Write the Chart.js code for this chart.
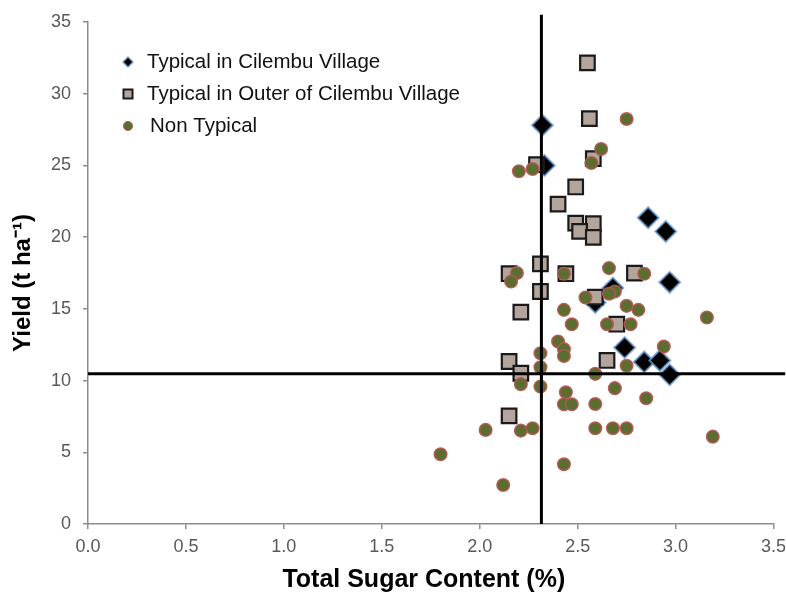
<!DOCTYPE html>
<html>
<head>
<meta charset="utf-8">
<script src="https://cdn.jsdelivr.net/npm/chart.js@4.4.0/dist/chart.umd.min.js"></script>
<style>
  html, body { margin: 0; padding: 0; background: #fff; }
  #wrap { width: 786px; height: 595px; position: relative; }
</style>
</head>
<body>
<div id="wrap"><canvas id="chart1"></canvas></div>
<script>
// Data
// ========================================================================
var seriesNames = ["Typical in Cilembu Village", "Typical in Outer of Cilembu Village", "Non Typical"];

var cilembuSugar = [2.32, 2.33, 2.86, 2.95, 2.97, 2.68, 2.59, 2.74, 2.84, 2.92, 2.97];
var cilembuYield = [27.8, 25.0, 21.35, 20.4, 16.85, 16.45, 15.45, 12.3, 11.3, 11.4, 10.4];

var outerSugar = [2.55, 2.56, 2.58, 2.29, 2.49, 2.40, 2.49, 2.58, 2.51, 2.58, 2.31,
                  2.15, 2.44, 2.79, 2.31, 2.59, 2.21, 2.70, 2.15, 2.65, 2.21, 2.15];
var outerYield = [32.15, 28.26, 25.47, 25.05, 23.5, 22.3, 20.98, 20.94, 20.4, 19.98, 18.14,
                  17.45, 17.45, 17.49, 16.21, 15.82, 14.77, 13.93, 11.33, 11.4, 10.51, 7.54];

var nonSugar = [2.75, 2.62, 2.57, 2.20, 2.27, 2.66, 2.19, 2.16, 2.43, 2.84, 2.69, 2.66,
                2.54, 2.43, 2.75, 2.81, 3.16, 2.47, 2.65, 2.77, 2.40, 2.43, 2.94, 2.31,
                2.43, 2.75, 2.31, 2.59, 2.21, 2.31, 2.69, 2.44, 2.85, 2.43, 2.47, 2.59,
                2.03, 2.21, 2.27, 2.59, 2.68, 2.75, 3.19, 1.80, 2.43, 2.12];
var nonYield = [28.24, 26.15, 25.17, 24.59, 24.75, 17.84, 17.5, 16.91, 17.45, 17.45, 16.21, 16.05,
                15.79, 14.93, 15.21, 14.93, 14.4, 13.93, 13.93, 13.93, 12.72, 12.19, 12.37, 11.9,
                11.72, 11.03, 10.93, 10.47, 9.75, 9.58, 9.47, 9.19, 8.77, 8.35, 8.35, 8.37,
                6.56, 6.51, 6.68, 6.68, 6.68, 6.68, 6.09, 4.86, 4.17, 2.72];

// reference lines (mean sugar / mean yield)
var sugarCut = 2.315;
var yieldCut = 10.47;
var sugarLineEnd = [0, 35.5];
var yieldLineEnd = [0, 3.56];

var xTicks = [0, 0.5, 1.0, 1.5, 2.0, 2.5, 3.0, 3.5];
var yTicks = [0, 5, 10, 15, 20, 25, 30, 35];

function toPoints(xs, ys) {
  return xs.map(function (x, i) { return { x: x, y: ys[i] }; });
}

// Legend drawn inside the plot
// ========================================================================
var insideLegend = {
  id: 'insideLegend',
  afterDraw: function (chart) {
    var ctx = chart.ctx;
    var rows = [62, 94, 126];
    var mx = 128;
    ctx.save();
    // diamond
    ctx.beginPath();
    ctx.moveTo(mx - 5, rows[0]); ctx.lineTo(mx, rows[0] - 5);
    ctx.lineTo(mx + 5, rows[0]); ctx.lineTo(mx, rows[0] + 5);
    ctx.closePath();
    ctx.fillStyle = '#000';
    ctx.strokeStyle = 'rgba(110,160,215,0.8)';
    ctx.lineWidth = 1.5;
    ctx.fill(); ctx.stroke();
    // square
    ctx.fillStyle = '#b3a59c';
    ctx.strokeStyle = '#1a1a1a';
    ctx.lineWidth = 2;
    ctx.fillRect(mx - 4.5, rows[1] - 4.5, 9, 9);
    ctx.strokeRect(mx - 4.5, rows[1] - 4.5, 9, 9);
    // circle
    ctx.beginPath();
    ctx.arc(mx, rows[2], 4.5, 0, Math.PI * 2);
    ctx.fillStyle = '#5b6d2f';
    ctx.strokeStyle = 'rgba(185,85,85,0.9)';
    ctx.lineWidth = 1.2;
    ctx.fill(); ctx.stroke();

    ctx.fillStyle = '#111';
    ctx.font = '20.5px "Liberation Sans", Arial, sans-serif';
    ctx.textBaseline = 'middle';
    ctx.textAlign = 'left';
    ctx.fillText(seriesNames[0], 147, rows[0]);
    ctx.fillText(seriesNames[1], 147, rows[1]);
    ctx.fillText(seriesNames[2], 150, rows[2]);
    ctx.restore();
  }
};

// Chart 1
// ========================================================================
var chart1El = document.getElementById('chart1');

new Chart(chart1El, {
  type: 'scatter',
  data: {
    datasets: [{
      label: 'sugar cut',
      data: [{ x: sugarCut, y: sugarLineEnd[0] }, { x: sugarCut, y: sugarLineEnd[1] }],
      showLine: true,
      borderColor: '#000',
      borderWidth: 3,
      pointRadius: 0,
      clip: false,
      order: 0
    }, {
      label: 'yield cut',
      data: [{ x: yieldLineEnd[0], y: yieldCut }, { x: yieldLineEnd[1], y: yieldCut }],
      showLine: true,
      borderColor: '#000',
      borderWidth: 3,
      pointRadius: 0,
      clip: false,
      order: 0
    }, {
      label: seriesNames[2],
      data: toPoints(nonSugar, nonYield),
      pointStyle: 'circle',
      pointRadius: 6.3,
      backgroundColor: '#5b6d2f',
      borderColor: 'rgba(185,85,85,0.9)',
      borderWidth: 1.5,
      order: 1
    }, {
      label: seriesNames[1],
      data: toPoints(outerSugar, outerYield),
      pointStyle: 'rect',
      pointRadius: 10.3,
      backgroundColor: '#b3a59c',
      borderColor: '#1a1a1a',
      borderWidth: 2.2,
      order: 2
    }, {
      label: seriesNames[0],
      data: toPoints(cilembuSugar, cilembuYield),
      pointStyle: 'rectRot',
      pointRadius: 10.5,
      backgroundColor: '#000',
      borderColor: 'rgba(110,160,215,0.75)',
      borderWidth: 2,
      order: 3
    }]
  },
  options: {
    responsive: true,
    maintainAspectRatio: false,
    animation: false,
    events: [],
    layout: {
      padding: { left: 0, right: 10, top: 22, bottom: 0 }
    },
    plugins: {
      legend: { display: false },
      tooltip: { enabled: false }
    },
    scales: {
      x: {
        type: 'linear',
        min: 0,
        max: 3.5,
        afterBuildTicks: function (scale) {
          scale.ticks = xTicks.map(function (v) { return { value: v }; });
        },
        afterFit: function (scale) {
          scale.height = 71;
          scale.paddingLeft = 0;
          scale.paddingRight = 0;
        },
        border: { color: '#8c8c8c', width: 1.5 },
        grid: { drawOnChartArea: false, tickLength: 5, color: '#8c8c8c', lineWidth: 1.5 },
        ticks: {
          padding: 7,
          color: '#595959',
          font: { family: '"Liberation Sans", Arial, sans-serif', size: 18 },
          maxRotation: 0,
          callback: function (v) { return Number(v).toFixed(1); }
        },
        title: {
          display: true,
          text: 'Total Sugar Content (%)  ',
          color: '#000',
          padding: { top: 0, bottom: 0 },
          font: { family: '"Liberation Sans", Arial, sans-serif', size: 25, weight: 'bold' }
        }
      },
      y: {
        type: 'linear',
        min: 0,
        max: 35,
        afterBuildTicks: function (scale) {
          scale.ticks = yTicks.map(function (v) { return { value: v }; });
        },
        afterFit: function (scale) {
          scale.width = 88;
          scale.paddingTop = 0;
          scale.paddingBottom = 0;
        },
        border: { color: '#8c8c8c', width: 1.5 },
        grid: { drawOnChartArea: false, tickLength: 5, color: '#8c8c8c', lineWidth: 1.5 },
        ticks: {
          padding: 12,
          color: '#595959',
          font: { family: '"Liberation Sans", Arial, sans-serif', size: 18 }
        },
        title: {
          display: true,
          text: 'Yield (t ha\u207B\u00B9)   ',
          color: '#000',
          padding: { top: 8.6, bottom: 0 },
          font: { family: '"Liberation Sans", Arial, sans-serif', size: 24, weight: 'bold' }
        }
      }
    }
  },
  plugins: [insideLegend]
});
</script>
</body>
</html>
